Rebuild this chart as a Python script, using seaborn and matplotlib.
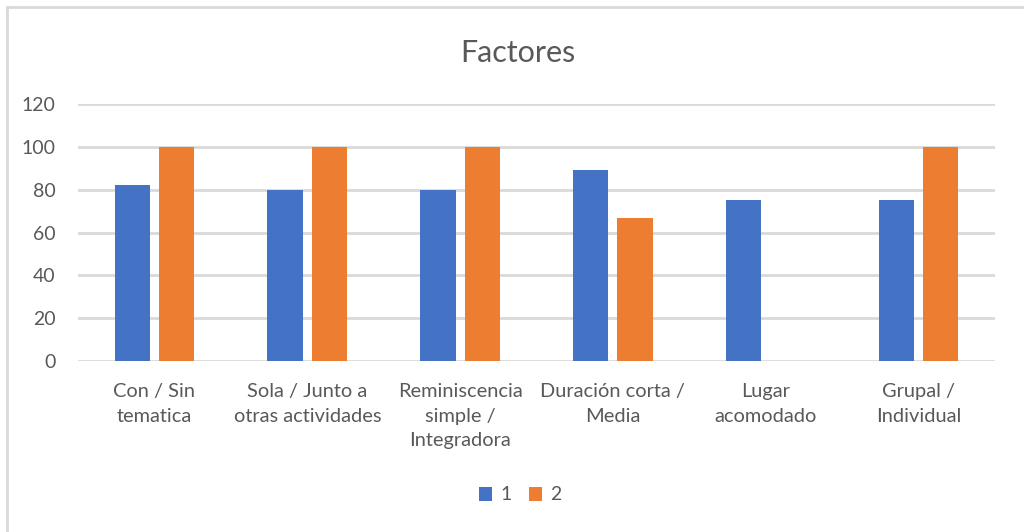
import numpy as np
import pandas as pd
import matplotlib
matplotlib.use("Agg")
import matplotlib.pyplot as plt
from matplotlib.lines import Line2D
from matplotlib.patches import Patch
import seaborn as sns

categories = [
    "Con / Sin\ntematica",
    "Sola / Junto a\notras actividades",
    "Reminiscencia\nsimple /\nIntegradora",
    "Duración corta /\nMedia",
    "Lugar\nacomodado",
    "Grupal /\nIndividual",
]
series_names = ["1", "2"]
values_1 = [82, 80, 80, 89, 75, 75]
values_2 = [100, 100, 100, 67, np.nan, 100]
y_ticks = [0, 20, 40, 60, 80, 100, 120]

colors = {"1": "#4472C4", "2": "#ED7D31"}
text_color = "#595959"
grid_color = "#D9D9D9"

df = pd.DataFrame({
    "categoria": categories * 2,
    "serie": [series_names[0]] * len(categories) + [series_names[1]] * len(categories),
    "valor": values_1 + values_2,
})

sns.set_theme(style="white")
plt.rcParams["font.family"] = ["Lato", "DejaVu Sans"]

fig = plt.figure(figsize=(10.24, 5.32), dpi=100)
ax = fig.add_axes([78 / 1024, 1 - 361 / 532, (995 - 78) / 1024, (361 - 104) / 532])

sns.barplot(
    data=df, x="categoria", y="valor", hue="serie",
    order=categories, hue_order=series_names,
    palette=colors, saturation=1, width=0.58, gap=0.2,
    edgecolor="none", linewidth=0, legend=False, ax=ax,
)

ax.set_ylim(0, 120)
ax.set_yticks(y_ticks)
ax.set_xlim(-0.5, len(categories) - 0.5)
ax.yaxis.grid(True, color=grid_color, linewidth=2)
ax.set_axisbelow(True)
for s in ax.spines.values():
    s.set_visible(False)
ax.set_xlabel("")
ax.set_ylabel("")
ax.tick_params(axis="y", length=0, pad=16, labelsize=14, labelcolor=text_color)
ax.tick_params(axis="x", length=0, pad=16, labelsize=14.4, labelcolor=text_color)
for lbl in ax.get_xticklabels():
    lbl.set_linespacing(1.52)

fig.text(518 / 1024, 1 - 53 / 532, "Factores", ha="center", va="center",
         fontsize=22, color=text_color)

handles = [Patch(facecolor=colors[s], edgecolor="none") for s in series_names]
fig.legend(handles, series_names, loc="center", ncol=2, frameon=False,
           bbox_to_anchor=(520 / 1024, 1 - 495 / 532),
           handlelength=0.7, handleheight=0.7, handletextpad=0.4,
           columnspacing=0.9, fontsize=14, labelcolor=text_color)

# chart area border
fig.add_artist(Line2D([6.5 / 1024, 1.0], [1 - 6.5 / 532] * 2, color=grid_color, linewidth=2))
fig.add_artist(Line2D([6.5 / 1024] * 2, [0.0, 1 - 6.5 / 532], color=grid_color, linewidth=2))

fig.savefig("out.png", dpi=100)
